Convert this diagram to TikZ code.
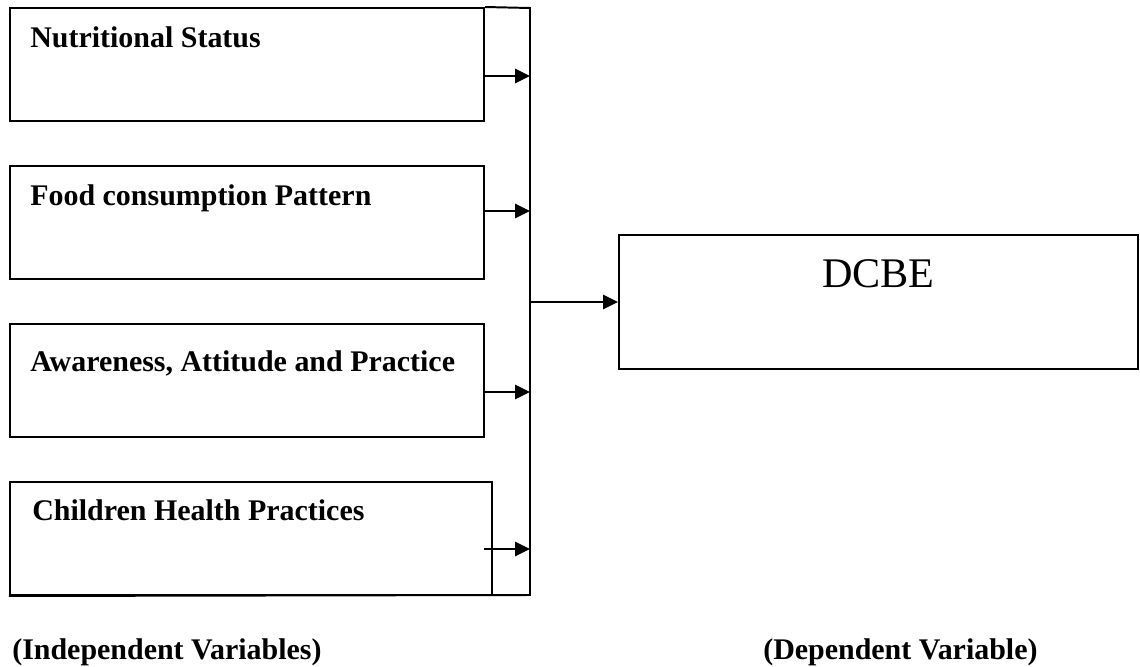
\documentclass[tikz,border=0pt]{standalone}
\usepackage{fontspec}
\setmainfont{Liberation Serif}
\usepackage{tikz}
\usetikzlibrary{arrows.meta,positioning}

\tikzset{
  ivbox/.style={draw=black, line width=1.4pt, minimum width=11.85cm, minimum height=2.825cm, inner sep=0pt},
  dvbox/.style={draw=black, line width=1.4pt, minimum width=12.975cm, minimum height=3.35cm, inner sep=0pt},
  ivtext/.style={anchor=base west, inner sep=0pt, font=\fontsize{21.3}{25}\selectfont\bfseries},
  dvtext/.style={anchor=base, inner sep=0pt, font=\fontsize{30}{34}\selectfont}
}

\begin{document}
\begin{tikzpicture}[x=0.025cm,y=-0.025cm]
\useasboundingbox (0,0) rectangle (1140,666);
\definecolor{lineColor}{RGB}{0,0,0}
% independent variable boxes
\node[ivbox] (n1) at (247,64.5) {};
\node[ivbox] (n2) at (247,222.5) {};
\node[ivbox] (n3) at (247,380.5) {};
\node[ivbox, minimum width=12.05cm] (n4) at (251,538.5) {};
\node[ivtext] (t1) at (30,47) {Nutritional Status};
\node[ivtext] (t2) at (30,205) {Food consumption Pattern};
\node[ivtext] (t3) at (30,371) {Awareness, Attitude and Practice};
\node[ivtext] (t4) at (32,520) {Children Health Practices};
% dependent variable box
\node[dvbox] (dcbe) at (878.5,302) {};
\node[dvtext] (tdcbe) at (878.5,287) {DCBE};
% collecting line
\coordinate (bustop) at (530,8);
\coordinate (busbot) at (530,595);
\draw[line width=1.4pt, color=lineColor] (n1.north east) -- (bustop) -- (busbot) -- (n4.south west);
\foreach \i/\y in {1/76,2/211,3/392}
  \draw[line width=1.4pt, color=lineColor, -{Triangle[length=10.5pt,width=10pt]}] (n\i.east |- 0,\y) -- (bustop |- 0,\y);
\draw[line width=1.4pt, color=lineColor, -{Triangle[length=10.5pt,width=10pt]}] (484,549) -- (bustop |- 0,549);
\draw[line width=1.4pt, color=lineColor, -{Triangle[length=10.5pt,width=10pt]}] (bustop |- dcbe.west) -- (dcbe.west);
% captions
\node[ivtext] (cap1) at (12,659) {(Independent Variables)};
\node[ivtext] (cap2) at (763,659) {(Dependent Variable)};
\end{tikzpicture}
\end{document}
